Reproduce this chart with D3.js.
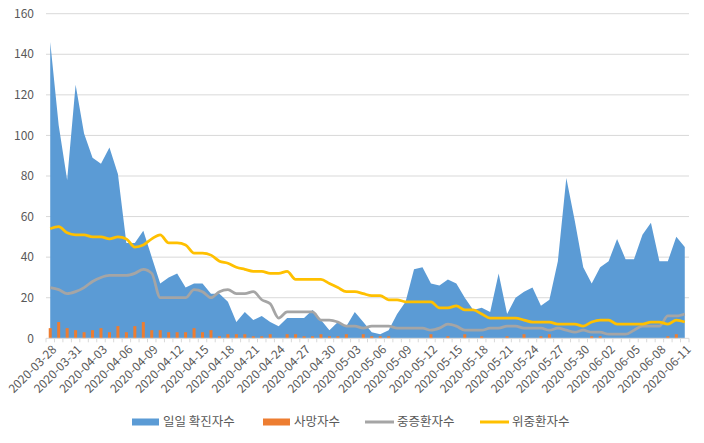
<!DOCTYPE html>
<html><head><meta charset="utf-8">
<script src="https://cdn.jsdelivr.net/npm/d3@7"></script>
<style>
html,body{margin:0;padding:0;background:#fff;}
text{font-family:"Noto Sans CJK KR","Noto Sans",sans-serif;fill:#595959;}
</style></head>
<body>
<svg id="chart" width="704" height="443"></svg>
<script>
const dates = [
"2020-03-28","2020-03-29","2020-03-30","2020-03-31","2020-04-01","2020-04-02","2020-04-03","2020-04-04","2020-04-05","2020-04-06",
"2020-04-07","2020-04-08","2020-04-09","2020-04-10","2020-04-11","2020-04-12","2020-04-13","2020-04-14","2020-04-15","2020-04-16",
"2020-04-17","2020-04-18","2020-04-19","2020-04-20","2020-04-21","2020-04-22","2020-04-23","2020-04-24","2020-04-25","2020-04-26",
"2020-04-27","2020-04-28","2020-04-29","2020-04-30","2020-05-01","2020-05-02","2020-05-03","2020-05-04","2020-05-05","2020-05-06",
"2020-05-07","2020-05-08","2020-05-09","2020-05-10","2020-05-11","2020-05-12","2020-05-13","2020-05-14","2020-05-15","2020-05-16",
"2020-05-17","2020-05-18","2020-05-19","2020-05-20","2020-05-21","2020-05-22","2020-05-23","2020-05-24","2020-05-25","2020-05-26",
"2020-05-27","2020-05-28","2020-05-29","2020-05-30","2020-05-31","2020-06-01","2020-06-02","2020-06-03","2020-06-04","2020-06-05",
"2020-06-06","2020-06-07","2020-06-08","2020-06-09","2020-06-10","2020-06-11"];

const tickLabels = ["2020-03-28","2020-03-31","2020-04-03","2020-04-06","2020-04-09","2020-04-12","2020-04-15","2020-04-18","2020-04-21",
"2020-04-24","2020-04-27","2020-04-30","2020-05-03","2020-05-06","2020-05-09","2020-05-12","2020-05-15","2020-05-18","2020-05-21",
"2020-05-24","2020-05-27","2020-05-30","2020-06-02","2020-06-05","2020-06-08","2020-06-11"];

const yTicks = [0,20,40,60,80,100,120,140,160];

const confirmed = [146,105,78,125,101,89,86,94,81,47,
47,53,40,27,30,32,25,27,27,22,
22,18,8,13,9,11,8,6,10,10,
10,14,9,4,8,6,13,8,3,2,
4,12,18,34,35,27,26,29,27,20,
14,15,13,32,12,20,23,25,16,19,
38,79,58,35,27,35,38,49,39,39,
51,57,38,38,50,45];

const deaths = [5,8,5,4,3,4,5,3,6,3,
6,8,4,4,3,3,3,5,3,4,
1,2,2,2,1,1,2,0,2,2,
1,1,2,1,1,2,0,2,1,1,
1,0,0,0,0,2,0,1,0,2,
0,1,0,0,1,0,2,0,1,2,
0,0,0,0,1,1,0,0,0,0,
0,0,0,1,2,0];

const severe = [25,24,22,23,25,28,30,31,31,31,
32,34,32,20,20,20,20,24,23,20,
23,24,22,22,23,19,17,10,13,13,
13,13,9,9,8,6,6,5,6,6,
6,5,5,5,5,4,5,7,6,4,
4,4,5,5,6,6,5,5,5,4,
5,4,3,4,3,3,2,2,2,4,
6,6,6,11,11,12];

const critical = [54,55,52,51,51,50,50,49,50,49,
45,46,49,51,47,47,46,42,42,41,
38,37,35,34,33,33,32,32,33,29,
29,29,29,27,25,23,23,22,21,21,
19,19,18,18,18,18,15,15,16,14,
14,12,10,10,10,10,9,8,8,8,
7,7,7,6,8,9,9,7,7,7,
7,8,8,7,9,8];

const seriesNames = ["일일 확진자수","사망자수","중증환자수","위중환자수"];
const colors = {blue:"#5B9BD5", orange:"#ED7D31", grey:"#A5A5A5", yellow:"#FFC000"};

const svg = d3.select("#chart");
const plotL = 46, plotR = 689, plotT = 13.7, plotB = 338.3;

const x = d3.scaleBand().domain(dates).range([plotL, plotR]).padding(0);
const xc = d => x(d) + x.bandwidth()/2;
const y = d3.scaleLinear().domain([0,160]).range([plotB, plotT]);

// gridlines
svg.append("g").selectAll("line").data(yTicks.filter(v=>v>0)).join("line")
  .attr("x1", plotL).attr("x2", plotR)
  .attr("y1", d=>y(d)).attr("y2", d=>y(d))
  .attr("stroke","#d9d9d9").attr("stroke-width",1);

// y labels
svg.append("g").selectAll("text").data(yTicks).join("text")
  .attr("x", 34).attr("y", d=>y(d)).attr("dy","0.35em")
  .attr("text-anchor","end").attr("font-size",12).text(d=>d);

// area
const area = d3.area().x((d,i)=>xc(dates[i])).y0(y(0)).y1(d=>y(d));
svg.append("path").datum(confirmed).attr("d", area).attr("fill", colors.blue);

// bars
const bw = 3;
svg.append("g").selectAll("rect").data(deaths).join("rect")
  .attr("x",(d,i)=>xc(dates[i]) - bw/2).attr("width", bw)
  .attr("y", d=>y(d)).attr("height", d=>y(0)-y(d))
  .attr("fill", colors.orange);

// lines
const line = d3.line().x((d,i)=>xc(dates[i])).y(d=>y(d)).curve(d3.curveMonotoneX);
svg.append("path").datum(severe).attr("d", line).attr("fill","none")
  .attr("stroke", colors.grey).attr("stroke-width",2.75).attr("stroke-linejoin","round");
svg.append("path").datum(critical).attr("d", line).attr("fill","none")
  .attr("stroke", colors.yellow).attr("stroke-width",2.75).attr("stroke-linejoin","round");

// x axis line & ticks
svg.append("line").attr("x1",plotL).attr("x2",plotR).attr("y1",plotB).attr("y2",plotB)
  .attr("stroke","#d9d9d9").attr("stroke-width",1);
const tickPos = dates.map(d=>x(d)).concat([plotR]);
svg.append("g").selectAll("line").data(tickPos).join("line")
  .attr("x1",d=>d).attr("x2",d=>d).attr("y1",plotB).attr("y2",plotB+4)
  .attr("stroke","#d9d9d9").attr("stroke-width",1);

// x labels
svg.append("g").selectAll("text").data(tickLabels).join("text")
  .attr("text-anchor","end").attr("font-size",12).attr("dy","0.35em")
  .attr("transform", d=>`translate(${xc(d)+4},${plotB+9}) rotate(-45)`)
  .text(d=>d);

// legend
const lg = svg.append("g");
const legendItems = [
  {name:seriesNames[0], x:132, type:"rect", color:colors.blue},
  {name:seriesNames[1], x:263, type:"rect", color:colors.orange},
  {name:seriesNames[2], x:365, type:"line", color:colors.grey},
  {name:seriesNames[3], x:480, type:"line", color:colors.yellow}
];
const ly = 422;
legendItems.forEach(it=>{
  if(it.type==="rect"){
    lg.append("rect").attr("x",it.x).attr("y",ly-3.5).attr("width",27).attr("height",7).attr("fill",it.color);
  } else {
    lg.append("line").attr("x1",it.x).attr("x2",it.x+29).attr("y1",ly).attr("y2",ly)
      .attr("stroke",it.color).attr("stroke-width",3);
  }
  lg.append("text").attr("x", it.x + (it.type==="rect"?31:32)).attr("y", ly).attr("dy","0.35em")
    .attr("font-size",12.5).text(it.name);
});
</script>
</body></html>
